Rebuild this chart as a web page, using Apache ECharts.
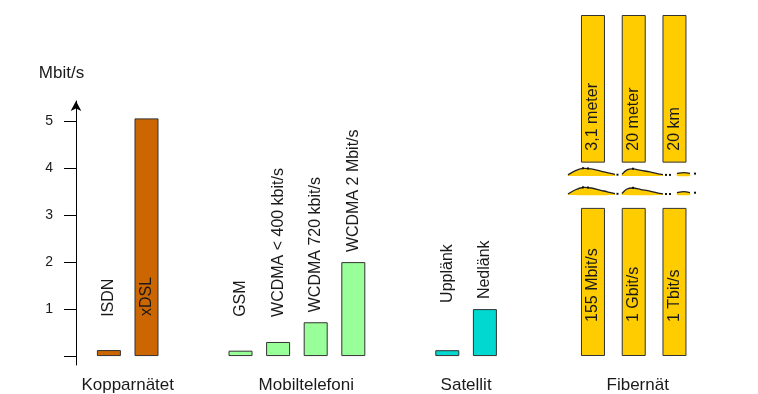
<!DOCTYPE html>
<html><head><meta charset="utf-8">
<script src="https://cdn.jsdelivr.net/npm/echarts@6/dist/echarts.min.js"></script>
<style>html,body{margin:0;padding:0;background:#fff}#c{width:758px;height:394px}</style>
</head><body><div id="c"></div>
<script>
// ---- data ----
const groupNames = ['Kopparnätet', 'Mobiltelefoni', 'Satellit', 'Fibernät'];
const copperNames = ['ISDN', 'xDSL'];
const copperValues = [0.128, 5.06];
const mobileNames = ['GSM', 'WCDMA < 400 kbit/s', 'WCDMA 720 kbit/s', 'WCDMA 2 Mbit/s'];
const mobileValues = [0.115, 0.3, 0.72, 2.0];
const satelliteNames = ['Upplänk', 'Nedlänk'];
const satelliteValues = [0.125, 1.0];
const fiberSpeedNames = ['155 Mbit/s', '1 Gbit/s', '1 Tbit/s'];
const fiberDistanceNames = ['3,1 meter', '20 meter', '20 km'];
const fiberLowerSegment = [3.14, 3.14, 3.14];
const fiberBreakSpan = [0.96, 0.96, 0.96];
const fiberUpperSegment = [3.13, 3.13, 3.13];
const yTickValues = [0, 1, 2, 3, 4, 5];
const yTickLabels = [1, 2, 3, 4, 5];
const yUnit = 'Mbit/s';

// ---- layout / style ----
const FONT = "'Liberation Sans', Arial, sans-serif";
const TXT = '#1a1a1a';
const BORDER = '#333333';
const groupColors = ['#CC6600', '#99FF99', '#00D8D0', '#FFCC00'];
const groupSlots = [[3, 7], [17, 21, 25, 29], [39, 43]];
const groupLabelSlots = [5, 24, 41];
const groupLabelFloor = [0.826, 0.826, 1.12];
const nSlots = 46, slotW = 9.4;
const gridTop = 101, gridBottom = 25.7, gridLeft = 76;
const yMin = -0.19, yMax = 5.43;
const pxPerUnit = (394 - gridBottom - gridTop) / (yMax - yMin);

const mainGroups = [
  {names: copperNames, values: copperValues},
  {names: mobileNames, values: mobileValues},
  {names: satelliteNames, values: satelliteValues}
];

const categories = new Array(nSlots).fill('');
const barData = new Array(nSlots).fill('-');
const barText = new Array(nSlots).fill('');
mainGroups.forEach((g, gi) => {
  categories[groupLabelSlots[gi]] = groupNames[gi];
  g.values.forEach((v, i) => {
    const s = groupSlots[gi][i];
    barText[s] = g.names[i];
    const inside = v > 3;
    const dist = inside ? 40 : Math.max(10, (groupLabelFloor[gi] - v) * pxPerUnit);
    barData[s] = {
      value: v,
      itemStyle: {color: groupColors[gi]},
      label: {position: inside ? 'insideBottom' : 'top', distance: dist}
    };
  });
});

const rotLabel = {
  show: true, rotate: 90, align: 'left', verticalAlign: 'middle',
  fontFamily: FONT, fontSize: 16, color: TXT
};

const fiberCats = ['', groupNames[3], ''];

const option = {
  animation: false,
  backgroundColor: '#fff',
  textStyle: {fontFamily: FONT},
  grid: [
    {left: gridLeft, top: gridTop, bottom: gridBottom, width: nSlots * slotW, containLabel: false},
    {left: 572.6, width: 122.25, top: 15, bottom: 34.7, containLabel: false}
  ],
  xAxis: [
    {
      type: 'category', gridIndex: 0, data: categories,
      axisLine: {show: false, onZero: false}, axisTick: {show: false},
      axisLabel: {interval: 0, fontSize: 17, color: TXT, margin: 12, fontFamily: FONT}
    },
    {
      type: 'category', gridIndex: 1, data: fiberCats,
      axisLine: {show: false, onZero: false}, axisTick: {show: false},
      axisLabel: {interval: 0, fontSize: 17, color: TXT, margin: 21, fontFamily: FONT,
        padding: [0, 0, 0, 8]}
    }
  ],
  yAxis: [
    {
      type: 'value', gridIndex: 0, min: yMin, max: yMax,
      name: yUnit, nameLocation: 'end', nameGap: 19,
      nameTextStyle: {fontSize: 17, color: TXT, fontFamily: FONT, padding: [0, 29, 0, 0]},
      axisLine: {show: true, lineStyle: {color: '#000', width: 1}, symbol: ['none', 'arrow'], symbolSize: [8, 10]},
      axisTick: {show: true, length: 12, lineStyle: {color: '#000'}, customValues: yTickValues},
      axisLabel: {fontSize: 14, color: TXT, margin: 23, fontFamily: FONT, customValues: yTickLabels},
      splitLine: {show: false}
    },
    {
      type: 'value', gridIndex: 1, min: 0, max: 7.23, show: false, splitLine: {show: false}
    }
  ],
  series: [
    {
      type: 'bar', xAxisIndex: 0, yAxisIndex: 0, data: barData, barWidth: 24,
      itemStyle: {borderColor: BORDER, borderWidth: 1},
      label: Object.assign({}, rotLabel, {formatter: p => barText[p.dataIndex]})
    },
    {
      type: 'bar', xAxisIndex: 1, yAxisIndex: 1, stack: 'fiber', data: fiberLowerSegment, barWidth: 24,
      itemStyle: {color: groupColors[3], borderColor: BORDER, borderWidth: 1},
      label: Object.assign({}, rotLabel, {position: 'insideBottom', distance: 34, formatter: p => fiberSpeedNames[p.dataIndex]})
    },
    {
      type: 'bar', xAxisIndex: 1, yAxisIndex: 1, stack: 'fiber', data: fiberBreakSpan, barWidth: 24,
      itemStyle: {color: 'rgba(0,0,0,0)', borderWidth: 0}, silent: true
    },
    {
      type: 'bar', xAxisIndex: 1, yAxisIndex: 1, stack: 'fiber', data: fiberUpperSegment, barWidth: 24,
      itemStyle: {color: groupColors[3], borderColor: BORDER, borderWidth: 1},
      label: Object.assign({}, rotLabel, {position: 'insideBottom', distance: 12, formatter: p => fiberDistanceNames[p.dataIndex]})
    }
  ]
};

const chart = echarts.init(document.getElementById('c'), null, {renderer: 'canvas'});
chart.setOption(option);

// ---- decorative break marks on the fiber bars ----
const waves = [
  [[-25, 0.5], [-18, -3.5], [-10, -6], [-2, -5.5], [7, -3.5], [15, -1.5], [22, 0]],
  [[29, 0], [34, -4.5], [40, -5.5], [48, -4], [57, -2.5], [65, -0.5], [70, 0.3]],
  [[84, -1], [91, -1.8], [97, -1]]
];
const dots = [[24.5, 0.3], [73, 0.5], [77, 0.5], [102, -0.8], [-10, -6.2], [-5, -6], [40, -5.7]];
const breakLevels = [3.85, 3.445];
const graphics = [];
breakLevels.forEach(lv => {
  const p = chart.convertToPixel({gridIndex: 1}, [0, lv]);
  const x0 = p[0], y0 = p[1];
  waves.forEach(w => {
    const pts = w.map(q => [x0 + q[0], y0 + q[1]]);
    const poly = pts.concat([[pts[pts.length - 1][0], y0 + 1.5], [pts[0][0], y0 + 1.5]]);
    graphics.push({type: 'polygon', shape: {points: poly, smooth: 0.2}, style: {fill: groupColors[3]}, z: 10});
    graphics.push({type: 'polyline', shape: {points: pts, smooth: 0.3}, style: {stroke: '#222', lineWidth: 1.3, fill: null}, z: 11});
  });
  dots.forEach(d => {
    graphics.push({type: 'rect', shape: {x: x0 + d[0] - 1, y: y0 + d[1] - 1, width: 2, height: 2}, style: {fill: '#111'}, z: 12});
  });
});
chart.setOption({graphic: graphics});
</script>
</body></html>
